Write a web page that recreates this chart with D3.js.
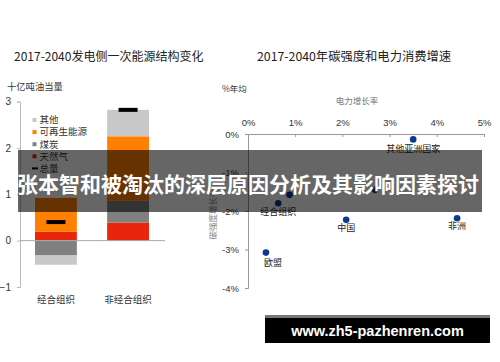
<!DOCTYPE html>
<html>
<head>
<meta charset="utf-8">
<script src="https://cdn.jsdelivr.net/npm/d3@7"></script>
<style>
html,body{margin:0;padding:0;background:#fff;}
svg{display:block;}
text{font-family:"Liberation Sans","Noto Sans CJK SC",sans-serif;}
.cjk{font-family:"Noto Sans CJK SC","Liberation Sans",sans-serif;}
</style>
</head>
<body>
<script>
// ---------- data ----------
const categories = ["经合组织", "非经合组织"];
const fuels = ["天然气", "煤炭", "可再生能源", "其他"];
const gasValues = [0.19, 0.39];
const coalValues = [-0.32, 0.47];
const renewValues = [0.73, 1.39];
const otherValues = [-0.20, 0.57];
const totalValues = [0.40, 2.82];
const leftTicks = [-1, 0, 1, 2, 3];

const regionNames = ["其他亚洲国家", "", "", "经合组织", "中国", "非洲", "欧盟"];
const elecGrowth = [3.50, 0.88, 2.69, 0.64, 2.08, 4.43, 0.38];
const carbonGrowth = [-0.14, -1.58, -1.45, -1.80, -2.23, -2.19, -3.08];
const xTicks = [0, 1, 2, 3, 4, 5];
const yTicks = [0, -1, -2, -3, -4];

const W = 500, H = 362;
const svg = d3.select("body").append("svg").attr("width", W).attr("height", H);

// ---------- left chart ----------
const colors = {"天然气": "#e8260c", "煤炭": "#808080", "可再生能源": "#ff8000", "其他": "#c8c8c8"};
const rows = categories.map((c, i) => ({cat: c, "天然气": gasValues[i], "煤炭": coalValues[i], "可再生能源": renewValues[i], "其他": otherValues[i]}));
const stacked = d3.stack().keys(fuels).offset(d3.stackOffsetDiverging)(rows);

const yL = d3.scaleLinear().domain([-1, 3]).range([287, 101.5]);
const xL = d3.scaleBand().domain(categories).range([20, 164]).paddingInner(0.42).paddingOuter(0.208);

svg.append("text").attr("class", "cjk").attr("x", 14).attr("y", 61).attr("font-size", 12).attr("fill", "#222")
  .text("2017-2040发电侧一次能源结构变化");
svg.append("text").attr("class", "cjk").attr("x", 7).attr("y", 90).attr("font-size", 9.3).attr("fill", "#333")
  .text("十亿吨油当量");

const gAxL = svg.append("g").attr("transform", "translate(20,0)")
  .call(d3.axisLeft(yL).tickValues(leftTicks).tickSize(3).tickPadding(6).tickFormat(d3.format("d")));
gAxL.selectAll("path,line").attr("stroke", "#bbb");
gAxL.selectAll("text").attr("font-size", 10).attr("fill", "#333").attr("font-family", "Liberation Sans");

svg.append("g").selectAll("g").data(stacked).join("g").attr("fill", d => colors[d.key])
  .selectAll("rect").data(d => d).join("rect")
  .attr("x", d => xL(d.data.cat))
  .attr("width", xL.bandwidth())
  .attr("y", d => yL(Math.max(d[0], d[1])))
  .attr("height", d => Math.abs(yL(d[0]) - yL(d[1])));

svg.append("line").attr("x1", 20).attr("x2", 165).attr("y1", yL(0)).attr("y2", yL(0)).attr("stroke", "#aaa").attr("stroke-width", 1);

svg.append("g").selectAll("rect").data(categories).join("rect")
  .attr("x", d => xL(d) + xL.bandwidth() / 2 - 9.5)
  .attr("width", 19)
  .attr("y", (d, i) => yL(totalValues[i]) - 2)
  .attr("height", 4)
  .attr("fill", "#000");

svg.append("g").selectAll("text").data(categories).join("text")
  .attr("class", "cjk")
  .attr("x", d => xL(d) + xL.bandwidth() / 2)
  .attr("y", 302.5)
  .attr("text-anchor", "middle").attr("font-size", 9.5).attr("fill", "#333")
  .text(d => d);

// legend
const legendItems = ["其他", "可再生能源", "煤炭", "天然气", "总量"];
const lg = svg.append("g").selectAll("g").data(legendItems).join("g")
  .attr("transform", (d, i) => `translate(32,${120 + i * 12.1})`);
lg.filter(d => d !== "总量").append("rect").attr("x", 0.5).attr("y", -2).attr("width", 4).attr("height", 4).attr("fill", d => colors[d]);
lg.filter(d => d === "总量").append("rect").attr("x", 0).attr("y", -1).attr("width", 6).attr("height", 2).attr("fill", "#000");
lg.append("text").attr("class", "cjk").attr("x", 7.5).attr("y", 3.3).attr("font-size", 9.5).attr("fill", "#333").text(d => d);

// ---------- right chart ----------
const xR = d3.scaleLinear().domain([0, 5]).range([248, 484]);
const yR = d3.scaleLinear().domain([-4, 0]).range([288, 134]);

svg.append("text").attr("class", "cjk").attr("x", 257).attr("y", 61).attr("font-size", 12.3).attr("fill", "#222")
  .text("2017-2040年碳强度和电力消费增速");
svg.append("text").attr("class", "cjk").attr("x", 222).attr("y", 92).attr("font-size", 8.5).attr("fill", "#333")
  .text("%年均");
svg.append("text").attr("class", "cjk").attr("x", 357).attr("y", 104).attr("text-anchor", "middle").attr("font-size", 8.5).attr("fill", "#777")
  .text("电力增长率");
svg.append("text").attr("class", "cjk").attr("transform", "translate(216,214) rotate(-90)").attr("text-anchor", "middle")
  .attr("font-size", 8.5).attr("fill", "#888").text("碳强度增长率");

const gx = svg.append("g").attr("transform", `translate(0,${yR(0)})`)
  .call(d3.axisTop(xR).tickValues(xTicks).tickSize(-3).tickPadding(8).tickFormat(d => d + "%"));
gx.selectAll("path,line").attr("stroke", "#999");
gx.selectAll("text").attr("font-size", 9.5).attr("fill", "#333").attr("font-family", "Liberation Sans");

const gy = svg.append("g").attr("transform", `translate(${xR(0)},0)`)
  .call(d3.axisLeft(yR).tickValues(yTicks).tickSize(3).tickPadding(6).tickFormat(d => d + "%"));
gy.selectAll("path,line").attr("stroke", "#999");
gy.selectAll("text").attr("font-size", 9.5).attr("fill", "#333").attr("font-family", "Liberation Sans");

svg.append("g").selectAll("circle").data(elecGrowth).join("circle")
  .attr("cx", d => xR(d)).attr("cy", (d, i) => yR(carbonGrowth[i])).attr("r", 3.3).attr("fill", "#0b3b8c");

const labelDx = [0, 0, 0, 0, 0, 0, 7];
const labelDy = [12.5, 0, 0, 12, 11.5, 11, 13];
const labelAnchor = ["middle", "middle", "middle", "middle", "middle", "middle", "middle"];
svg.append("g").selectAll("text").data(regionNames).join("text")
  .attr("class", "cjk")
  .attr("x", (d, i) => xR(elecGrowth[i]) + labelDx[i])
  .attr("y", (d, i) => yR(carbonGrowth[i]) + labelDy[i])
  .attr("text-anchor", (d, i) => labelAnchor[i])
  .attr("font-size", 9).attr("fill", "#222")
  .text(d => d);

// ---------- overlay banner ----------
svg.append("rect").attr("x", 18).attr("y", 150).attr("width", 464).attr("height", 62).attr("fill", "rgba(0,0,0,0.6)");
svg.append("text").attr("class", "cjk").attr("x", 248).attr("y", 192).attr("text-anchor", "middle")
  .attr("font-size", 21).attr("font-weight", "bold").attr("fill", "#fff")
  .text("张本智和被淘汰的深层原因分析及其影响因素探讨");

// ---------- watermark ----------
svg.append("rect").attr("x", 265).attr("y", 315).attr("width", 225).attr("height", 3).attr("fill", "#777");
svg.append("rect").attr("x", 265).attr("y", 318).attr("width", 225).attr("height", 25).attr("fill", "#000");
svg.append("text").attr("x", 377.5).attr("y", 336).attr("text-anchor", "middle")
  .attr("font-family", "DejaVu Sans").attr("font-weight", "bold").attr("font-size", 14.5).attr("fill", "#fff")
  .text("www.zh5-pazhenren.com");
</script>
</body>
</html>
